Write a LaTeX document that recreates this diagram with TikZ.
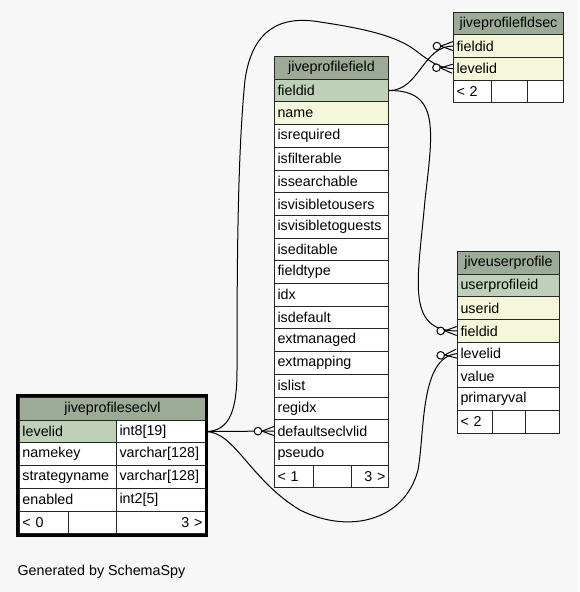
\documentclass[tikz,border=0pt]{standalone}
\usepackage{fontspec}
\setmainfont{Liberation Sans}
\usepackage{xcolor}
\usepackage{tikz}
\usetikzlibrary{decorations.markings}

\definecolor{bggray}{HTML}{F7F7F7}
\definecolor{hdrgreen}{HTML}{9BAB96}
\definecolor{pkgreen}{HTML}{BED1B8}
\definecolor{fkyellow}{HTML}{F4F7DA}

\begin{document}
\begin{tikzpicture}[
  x=1pt, y=-1pt,
  font=\fontsize{14.3}{16}\selectfont,
  cell/.style={rectangle, draw=black!85, line width=1pt, anchor=north west,
               inner xsep=3pt, inner ysep=0pt, minimum height=22.7pt,
               text width=#1, align=left},
  head/.style={cell=#1, fill=hdrgreen, align=center},
  pkey/.style={cell=#1, fill=pkgreen},
  fkey/.style={cell=#1, fill=fkyellow},
  plain/.style={cell=#1, fill=white},
  num/.style={cell=#1, fill=white, align=right},
  rel/.style={line width=1pt, postaction={decorate},
              decoration={markings, mark=at position 0.999 with {
                \draw[line width=1pt] (-12pt,0pt) -- (0pt,4.5pt)
                                      (-12pt,0pt) -- (0pt,-4.5pt);
                \draw[line width=1pt, fill=white] (-16pt,0pt) circle (3.8pt);}}}
]

\useasboundingbox (0,0) rectangle (579,592);
\fill[bggray] (0,0) rectangle (579,592);

% jiveprofilefield, middle column
\node[head=108pt]  (pf-head)            at (274,56)    {jiveprofilefield};
\node[pkey=108pt]  (pf-fieldid)         at (274,78.7)  {fieldid};
\node[fkey=108pt]  (pf-name)            at (274,101.4) {name};
\node[plain=108pt] (pf-isrequired)      at (274,124.1) {isrequired};
\node[plain=108pt] (pf-isfilterable)    at (274,146.8) {isfilterable};
\node[plain=108pt] (pf-issearchable)    at (274,169.5) {issearchable};
\node[plain=108pt] (pf-isvisibleusers)  at (274,192.2) {isvisibletousers};
\node[plain=108pt] (pf-isvisibleguests) at (274,214.9) {isvisibletoguests};
\node[plain=108pt] (pf-iseditable)      at (274,237.6) {iseditable};
\node[plain=108pt] (pf-fieldtype)       at (274,260.3) {fieldtype};
\node[plain=108pt] (pf-idx)             at (274,283.0) {idx};
\node[plain=108pt] (pf-isdefault)       at (274,305.7) {isdefault};
\node[plain=108pt] (pf-extmanaged)      at (274,328.4) {extmanaged};
\node[plain=108pt] (pf-extmapping)      at (274,351.1) {extmapping};
\node[plain=108pt] (pf-islist)          at (274,373.8) {islist};
\node[plain=108pt] (pf-regidx)          at (274,396.5) {regidx};
\node[plain=108pt] (pf-defaultseclvlid) at (274,419.2) {defaultseclvlid};
\node[plain=108pt] (pf-pseudo)          at (274,441.9) {pseudo};
\node[plain=33pt]  (pf-foot1)           at (274,464.6) {< 1};
\node[plain=32pt]  (pf-foot2)           at (313,464.6) {};
\node[num=31pt]    (pf-foot3)           at (351,464.6) {3 >};

% jiveprofilefldsec, top right
\node[head=104pt]  (fs-head)    at (453,11.5) {jiveprofilefldsec};
\node[fkey=104pt]  (fs-fieldid) at (453,34.2) {fieldid};
\node[fkey=104pt]  (fs-levelid) at (453,56.9) {levelid};
\node[plain=32pt]  (fs-foot1)   at (453,79.6) {< 2};
\node[plain=30pt]  (fs-foot2)   at (491,79.6) {};
\node[plain=30pt]  (fs-foot3)   at (527,79.6) {};

% jiveuserprofile, right
\node[head=96pt]   (up-head)          at (457,251)   {jiveuserprofile};
\node[pkey=96pt]   (up-userprofileid) at (457,273.7) {userprofileid};
\node[fkey=96pt]   (up-userid)        at (457,296.4) {userid};
\node[fkey=96pt]   (up-fieldid)       at (457,319.1) {fieldid};
\node[plain=96pt]  (up-levelid)       at (457,341.8) {levelid};
\node[plain=96pt]  (up-value)         at (457,364.5) {value};
\node[plain=96pt]  (up-primaryval)    at (457,387.2) {primaryval};
\node[plain=29pt]  (up-foot1)         at (457,409.9) {< 2};
\node[plain=27pt]  (up-foot2)         at (492,409.9) {};
\node[plain=28pt]  (up-foot3)         at (525,409.9) {};

% jiveprofileseclvl, bold table at left
\node[head=180pt]  (sl-head)              at (19,397)   {jiveprofileseclvl};
\node[pkey=91pt]   (sl-levelid)           at (19,419.7) {levelid};
\node[plain=83pt]  (sl-levelid-type)      at (116,419.7) {int8[19]};
\node[plain=91pt]  (sl-namekey)           at (19,442.4) {namekey};
\node[plain=83pt]  (sl-namekey-type)      at (116,442.4) {varchar[128]};
\node[plain=91pt]  (sl-strategyname)      at (19,465.1) {strategyname};
\node[plain=83pt]  (sl-strategyname-type) at (116,465.1) {varchar[128]};
\node[plain=91pt]  (sl-enabled)           at (19,487.8) {enabled};
\node[plain=83pt]  (sl-enabled-type)      at (116,487.8) {int2[5]};
\node[plain=43pt]  (sl-foot1)             at (19,510.5) {< 0};
\node[plain=42pt]  (sl-foot2)             at (68,510.5) {};
\node[num=83pt]    (sl-foot3)             at (116,510.5) {3 >};
\draw[line width=3pt] (17.5,395.5) rectangle (206.5,535.5);

% links to fieldid
\draw[rel] (pf-fieldid.east) to[out=0,in=180] (fs-fieldid.west);
\draw[rel] (pf-fieldid.east) .. controls (440,90) and (433,130) .. (425,200)
      .. controls (418,280) and (405,331) .. (up-fieldid.west);

% links from levelid
\draw[rel] (sl-levelid-type.east) -- (pf-defaultseclvlid.west);
\draw[rel] (sl-levelid-type.east) .. controls (230,431) and (237,410) .. (237,370)
      .. controls (237,250) and (238,150) .. (245,80)
      .. controls (252,30) and (280,15) .. (320,22)
      .. controls (360,28) and (395,35) .. (415,50)
      .. controls (428,60) and (438,68) .. (fs-levelid.west);
\draw[rel] (sl-levelid-type.east) .. controls (235,432) and (250,480) .. (300,510)
      .. controls (350,535) and (405,520) .. (418,470)
      .. controls (425,430) and (420,357) .. (up-levelid.west);

\node[anchor=west] (credit) at (14,572) {Generated by SchemaSpy};

\end{tikzpicture}
\end{document}
